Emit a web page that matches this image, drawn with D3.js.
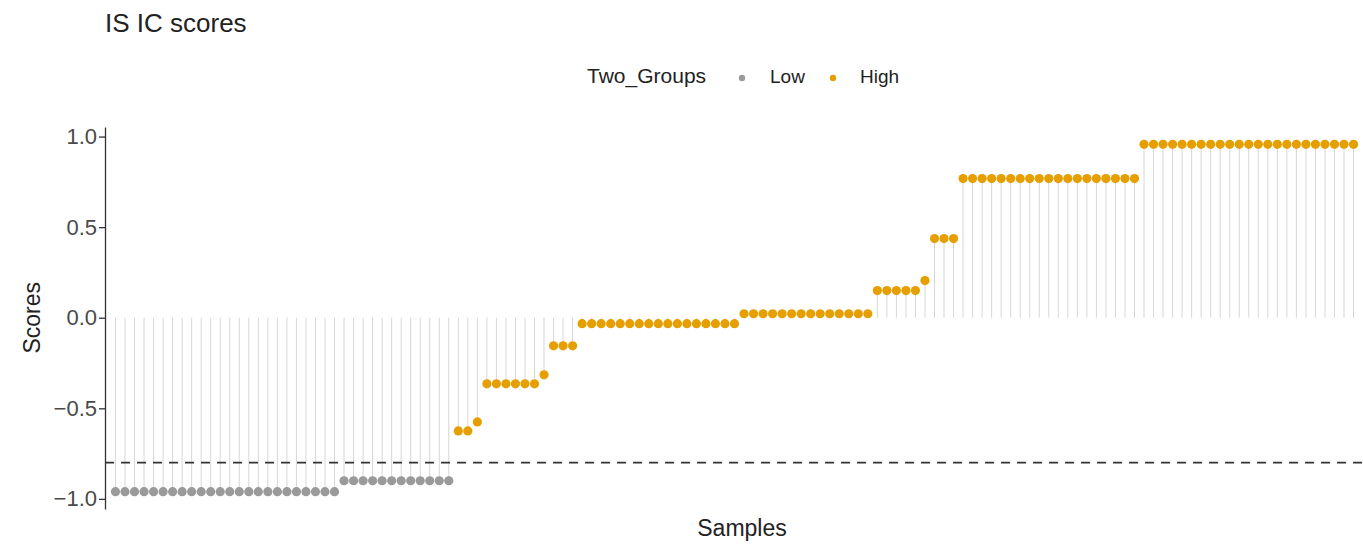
<!DOCTYPE html>
<html>
<head>
<meta charset="utf-8">
<script src="https://cdn.jsdelivr.net/npm/d3@7"></script>
<style>
  html, body { margin: 0; padding: 0; background: #fff; }
  svg { display: block; font-family: "Liberation Sans", Arial, sans-serif; }
</style>
</head>
<body>
<svg id="chart" width="1363" height="545"></svg>
<script>
// Score level of each run of samples (sorted ascending) and how many samples share it
const groupLabels = ["Low", "High"];
const runScores = [-0.96, -0.90, -0.625, -0.575, -0.365, -0.315, -0.155, -0.033, 0.022, 0.15, 0.205, 0.437, 0.768, 0.957];
const runCounts = [24, 12, 2, 1, 6, 1, 3, 17, 14, 5, 1, 3, 19, 23];
const runGroups = ["Low", "Low", "High", "High", "High", "High", "High", "High", "High", "High", "High", "High", "High", "High"];
const cutoff = -0.8;
const yTicks = [-1.0, -0.5, 0.0, 0.5, 1.0];

// Expand the runs into one record per sample
const samples = [];
runScores.forEach((s, i) => {
  for (let k = 0; k < runCounts[i]; k++) {
    samples.push({ id: "S" + (samples.length + 1), score: s, group: runGroups[i] });
  }
});

const svg = d3.select("#chart");
const panel = { left: 105, right: 1364, top: 127, bottom: 509 };

const x = d3.scaleBand()
  .domain(samples.map(d => d.id))
  .range([panel.left, panel.right])
  .paddingOuter(0.6)
  .paddingInner(0);
const xc = d => x(d.id) + x.bandwidth() / 2;

const yMin = d3.min([...runScores, cutoff]);
const yMax = d3.max([...runScores, cutoff]);
const pad = (yMax - yMin) * 0.05;
const y = d3.scaleLinear().domain([yMin - pad, yMax + pad]).range([panel.bottom, panel.top]);

const color = d3.scaleOrdinal().domain(groupLabels).range(["#9a9a9a", "#E69F00"]);

// Stems from zero to each score
svg.append("g").selectAll("line")
  .data(samples).join("line")
  .attr("x1", xc).attr("x2", xc)
  .attr("y1", y(0)).attr("y2", d => y(d.score))
  .attr("stroke", "#d6d6d6").attr("stroke-width", 1);

// Cut-off line
svg.append("line")
  .attr("x1", panel.left).attr("x2", panel.right)
  .attr("y1", y(cutoff)).attr("y2", y(cutoff))
  .attr("stroke", "#333").attr("stroke-width", 1.6)
  .attr("stroke-dasharray", "9,7");

// Points
svg.append("g").selectAll("circle")
  .data(samples).join("circle")
  .attr("cx", xc).attr("cy", d => y(d.score))
  .attr("r", 4.6)
  .attr("fill", d => color(d.group));

// Y axis
const yAxis = svg.append("g")
  .attr("transform", `translate(${panel.left},0)`)
  .call(d3.axisLeft(y).tickValues(yTicks).tickFormat(d3.format(".1f")).tickSize(6).tickSizeOuter(0));
yAxis.select(".domain").attr("stroke", "#333").attr("stroke-width", 1.3);
yAxis.selectAll(".tick line").attr("stroke", "#333").attr("stroke-width", 1.3);
yAxis.selectAll(".tick text")
  .attr("x", -8)
  .attr("fill", "#4a4a4a")
  .style("font-size", "22px")
  .text(d => d < 0 ? "\u2212" + d3.format(".1f")(-d) : d3.format(".1f")(d));

// Axis titles
svg.append("text")
  .attr("transform", `translate(40,${y(0)}) rotate(-90)`)
  .attr("text-anchor", "middle")
  .attr("fill", "#222").style("font-size", "23px")
  .text("Scores");
svg.append("text")
  .attr("x", 742).attr("y", 536)
  .attr("text-anchor", "middle")
  .attr("fill", "#222").style("font-size", "23px")
  .text("Samples");

// Title
svg.append("text")
  .attr("x", 105).attr("y", 32)
  .attr("fill", "#222").style("font-size", "26px")
  .text("IS IC scores");

// Legend
const legend = svg.append("g");
legend.append("text")
  .attr("x", 587).attr("y", 83)
  .attr("fill", "#222").style("font-size", "21px")
  .text("Two_Groups");
const legendItems = [
  { label: groupLabels[0], cx: 742, tx: 770 },
  { label: groupLabels[1], cx: 833, tx: 860 }
];
legendItems.forEach(it => {
  legend.append("circle").attr("cx", it.cx).attr("cy", 78).attr("r", 3.2).attr("fill", color(it.label));
  legend.append("text").attr("x", it.tx).attr("y", 83)
    .attr("fill", "#222").style("font-size", "19px").text(it.label);
});
</script>
</body>
</html>
